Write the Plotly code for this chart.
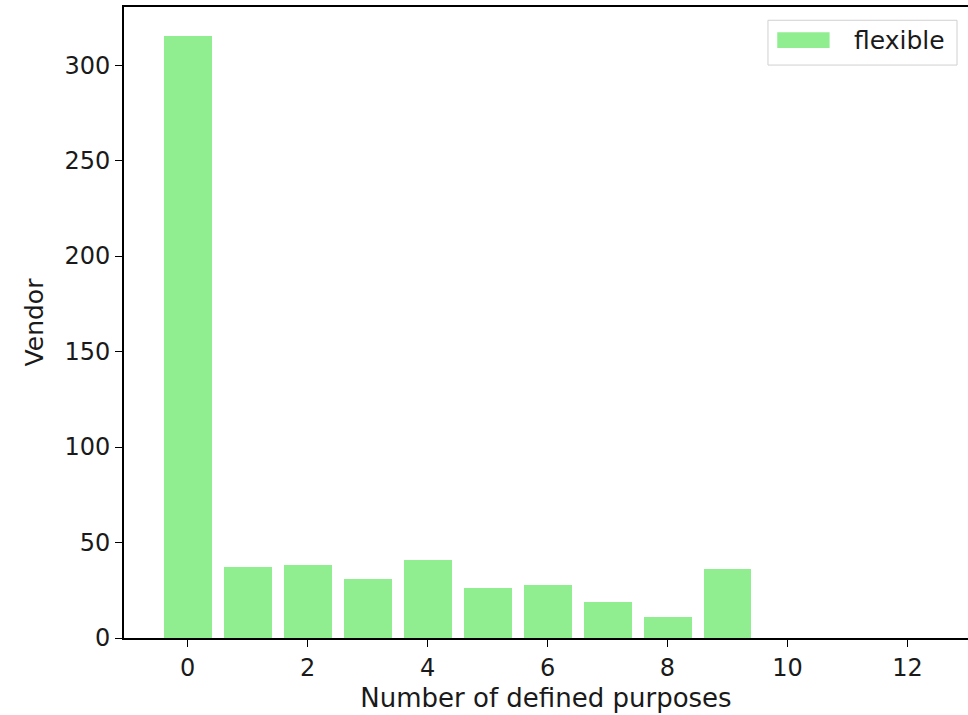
import plotly.graph_objects as go

# Vendor counts per number of defined purposes (flexible legal basis)
purposes = list(range(13))
vendors = [315, 37, 38, 31, 41, 26, 28, 19, 11, 36, 0, 0, 0]
series_name = "flexible"
x_ticks = [0, 2, 4, 6, 8, 10, 12]
y_ticks = [0, 50, 100, 150, 200, 250, 300]

BAR_COLOR = "#90EE90"
FONT = "DejaVu Sans"
TEXT = "#1a1a1a"

fig = go.Figure()
fig.add_trace(go.Bar(
    x=purposes, y=vendors, width=0.8,
    marker=dict(color=BAR_COLOR, line=dict(width=0)),
    name=series_name, showlegend=False,
))

W, H = 968, 715
ml, mr, mt, mb = 124, 0, 7, 77

fig.update_layout(
    width=W, height=H,
    margin=dict(l=ml, r=mr, t=mt, b=mb, pad=0),
    paper_bgcolor="white", plot_bgcolor="white",
    font=dict(family=FONT, color=TEXT, size=24),
    bargap=0,
    xaxis=dict(
        range=[-1.062, 13.01], tickvals=x_ticks,
        ticks="outside", ticklen=7, tickwidth=1.4, tickcolor="black",
        showline=True, linecolor="black", linewidth=1.6, mirror=True,
        showgrid=False, zeroline=False,
        tickfont=dict(size=24, family=FONT, color=TEXT),
        title=dict(text="Number of defined purposes", standoff=8,
                   font=dict(size=26, family=FONT, color=TEXT)),
    ),
    yaxis=dict(
        range=[0, max(vendors) * 1.049], tickvals=y_ticks,
        ticks="outside", ticklen=7, tickwidth=1.4, tickcolor="black",
        showline=True, linecolor="black", linewidth=1.6, mirror=False,
        showgrid=False, zeroline=False,
        tickfont=dict(size=24, family=FONT, color=TEXT),
        title=dict(text="Vendor", standoff=14,
                   font=dict(size=25, family=FONT, color=TEXT)),
    ),
)

# Legend box drawn in paper coordinates (upper right corner of the axes)
fig.add_shape(type="rect", xref="paper", yref="paper",
              x0=0.763, x1=0.987, y0=0.908, y1=0.979,
              line=dict(color="#d0d0d0", width=1), fillcolor="rgba(255,255,255,0.8)")
fig.add_shape(type="rect", xref="paper", yref="paper",
              x0=0.774, x1=0.836, y0=0.935, y1=0.960,
              line=dict(width=0), fillcolor=BAR_COLOR)
fig.add_annotation(text=series_name, xref="paper", yref="paper",
                   x=0.862, y=0.9475, xanchor="left", yanchor="middle",
                   showarrow=False, font=dict(size=25, family=FONT, color=TEXT))

fig.write_html("out.html")
